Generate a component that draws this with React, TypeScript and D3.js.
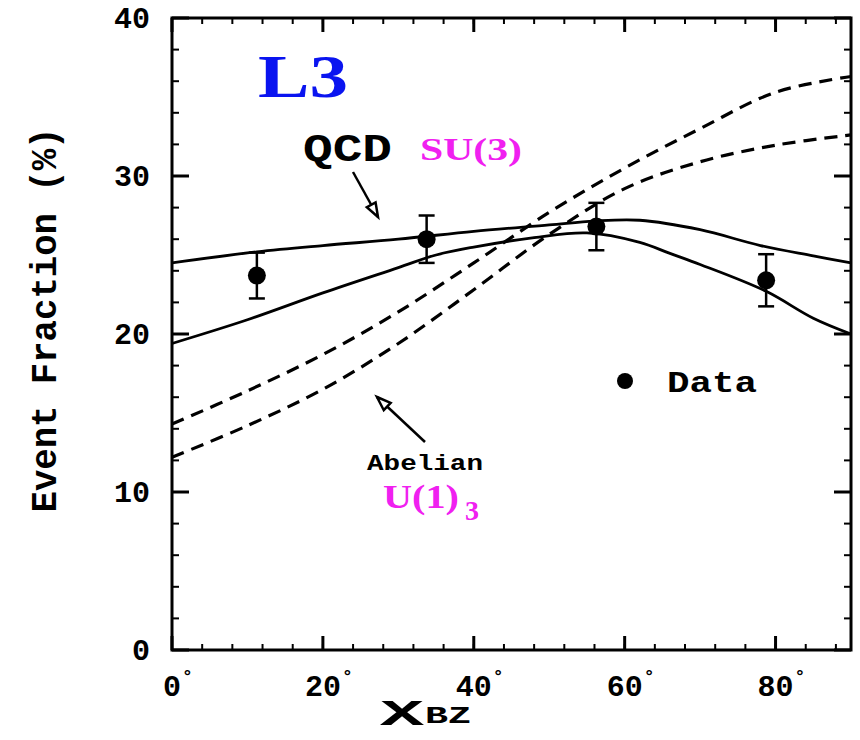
import React from "react";
import * as d3 from "d3";

// axis ticks
const angleTicks = [0, 20, 40, 60, 80];
const fracTicks = [0, 10, 20, 30, 40];

// data points (chi_BZ bins)
const dataAngle = [11.25, 33.75, 56.25, 78.75];
const dataFrac = [23.7, 26.0, 26.8, 23.4];
const dataErr = [1.45, 1.5, 1.5, 1.65];

// QCD SU(3) curves (solid)
const qcdUpperAngle = [0, 11.25, 20, 30, 40, 50, 56, 62, 70, 78, 85, 90];
const qcdUpperFrac = [24.5, 25.2, 25.6, 26.0, 26.5, 26.9, 27.15, 27.2, 26.6, 25.6, 24.95, 24.5];
const qcdLowerAngle = [0, 10, 20, 30, 35, 40, 48, 55, 62, 66, 70, 78.75, 85, 90];
const qcdLowerFrac = [19.4, 20.9, 22.6, 24.2, 25.0, 25.5, 26.1, 26.4, 25.8, 25.1, 24.4, 22.7, 21.0, 20.0];

// Abelian U(1)_3 curves (dashed)
const abelAngle = [0, 10, 20, 30, 40, 50, 60, 70, 80, 90];
const abelUpperFrac = [14.3, 16.4, 18.7, 21.4, 24.5, 27.7, 30.5, 33.0, 35.3, 36.3];
const abelLowerFrac = [12.2, 14.2, 16.5, 19.4, 22.8, 26.3, 29.2, 30.9, 31.95, 32.6];

const width = 860;
const height = 740;
const margin = { top: 18, right: 9, bottom: 90, left: 172 };

const mono = "'Liberation Mono', 'DejaVu Sans Mono', monospace";
const serif = "'Liberation Serif', 'DejaVu Serif', serif";
const magenta = "#f020f0";

function arrowHead(x1: number, y1: number, x2: number, y2: number) {
  // hollow head at (x2,y2)
  const a = Math.atan2(y2 - y1, x2 - x1);
  const len = 14, w = 5;
  const bx = x2 - len * Math.cos(a), by = y2 - len * Math.sin(a);
  const px = -Math.sin(a) * w, py = Math.cos(a) * w;
  return `M${x2},${y2}L${bx + px},${by + py}L${bx - px},${by - py}Z`;
}

const App = () => {
  const x = d3.scaleLinear().domain([0, 90]).range([margin.left, width - margin.right]);
  const y = d3.scaleLinear().domain([0, 40]).range([height - margin.bottom, margin.top]);
  const x0 = x(0), x1 = x(90), y0 = y(0), y1 = y(40);

  const line = (ax: number[], ay: number[]) =>
    d3.line<number>()
      .x((d, i) => x(ax[i]))
      .y((d) => y(d))
      .curve(d3.curveCatmullRom.alpha(0.5))(ay) as string;

  const xMinor = d3.range(0, 90.01, 4);
  const yMinor = d3.range(0, 40.01, 2);

  const qx1 = 353, qy1 = 172, qx2 = 378, qy2 = 217;
  const ax1 = 425, ay1 = 442, ax2 = 377, ay2 = 397;

  return (
    <svg width={width} height={height} style={{ position: "absolute", left: 0, top: 0, background: "#fff" }}>
      {/* minor ticks */}
      <g stroke="#000" strokeWidth={2}>
        {xMinor.map((t) => (
          <g key={"xm" + t}>
            <line x1={x(t)} x2={x(t)} y1={y0} y2={y0 - 6} />
            <line x1={x(t)} x2={x(t)} y1={y1} y2={y1 + 6} />
          </g>
        ))}
        {yMinor.map((t) => (
          <g key={"ym" + t}>
            <line x1={x0} x2={x0 + 7} y1={y(t)} y2={y(t)} />
            <line x1={x1} x2={x1 - 7} y1={y(t)} y2={y(t)} />
          </g>
        ))}
      </g>
      <g stroke="#000" strokeWidth={3}>
        {angleTicks.map((t) => (
          <g key={"xM" + t}>
            <line x1={x(t)} x2={x(t)} y1={y0} y2={y0 - 14} />
            <line x1={x(t)} x2={x(t)} y1={y1} y2={y1 + 14} />
          </g>
        ))}
        {fracTicks.map((t) => (
          <g key={"yM" + t}>
            <line x1={x0} x2={x0 + 17} y1={y(t)} y2={y(t)} />
            <line x1={x1} x2={x1 - 17} y1={y(t)} y2={y(t)} />
          </g>
        ))}
      </g>
      <rect x={x0} y={y1} width={x1 - x0} height={y0 - y1} fill="none" stroke="#000" strokeWidth={3} />

      {/* tick labels */}
      <g fontFamily={mono} fontWeight="bold" fontSize={30} fill="#000">
        {fracTicks.map((t) => (
          <text key={"yl" + t} x={x0 - 22} y={y(t) + 10} textAnchor="end">{t}</text>
        ))}
        {angleTicks.map((t) => {
          const w = String(t).length * 18;
          return (
            <g key={"xl" + t}>
              <text x={x(t)} y={y0 + 46} textAnchor="middle">{t}</text>
              <text x={x(t) + w / 2 + 1} y={y0 + 32} fontSize={18}>°</text>
            </g>
          );
        })}
      </g>

      {/* axis titles */}
      <text transform={`translate(56,${(y0 + y1) / 2 - 14}) rotate(-90)`} textAnchor="middle"
        fontFamily={mono} fontWeight="bold" fontSize={36} textLength={385} lengthAdjust="spacingAndGlyphs">
        Event Fraction (%)
      </text>
      <text x={380} y={725} fontFamily={mono} fontWeight="bold" fontSize={36} textLength={44} lengthAdjust="spacingAndGlyphs">X</text>
      <text x={425} y={723} fontFamily={mono} fontWeight="bold" fontSize={24} textLength={46} lengthAdjust="spacingAndGlyphs">BZ</text>

      {/* curves */}
      <g fill="none" stroke="#000" strokeWidth={2.8}>
        <path d={line(qcdUpperAngle, qcdUpperFrac)} />
        <path d={line(qcdLowerAngle, qcdLowerFrac)} />
        <path d={line(abelAngle, abelUpperFrac)} strokeDasharray="13 8" strokeWidth={3.2} />
        <path d={line(abelAngle, abelLowerFrac)} strokeDasharray="13 8" strokeWidth={3.2} />
      </g>

      {/* data */}
      <g stroke="#000" strokeWidth={2.5}>
        {dataAngle.map((a, i) => (
          <g key={"d" + i}>
            <line x1={x(a)} x2={x(a)} y1={y(dataFrac[i] - dataErr[i])} y2={y(dataFrac[i] + dataErr[i])} />
            <line x1={x(a) - 8} x2={x(a) + 8} y1={y(dataFrac[i] - dataErr[i])} y2={y(dataFrac[i] - dataErr[i])} />
            <line x1={x(a) - 8} x2={x(a) + 8} y1={y(dataFrac[i] + dataErr[i])} y2={y(dataFrac[i] + dataErr[i])} />
            <circle cx={x(a)} cy={y(dataFrac[i])} r={9} fill="#000" stroke="none" />
          </g>
        ))}
      </g>

      {/* legend */}
      <circle cx={625} cy={381} r={8} fill="#000" />
      <text x={667} y={392} fontFamily={mono} fontWeight="bold" fontSize={30} textLength={90} lengthAdjust="spacingAndGlyphs">Data</text>

      {/* annotations */}
      <text x={258} y={97} fontFamily={serif} fontWeight="bold" fontSize={62} fill="#0a14f0" textLength={90} lengthAdjust="spacingAndGlyphs">L3</text>
      <text x={303} y={161} fontFamily={mono} fontWeight="bold" fontSize={38} textLength={89} lengthAdjust="spacingAndGlyphs">QCD</text>
      <text x={420} y={160} fontFamily={serif} fontWeight="bold" fontSize={32} fill={magenta} textLength={102} lengthAdjust="spacingAndGlyphs">SU(3)</text>
      <text x={367} y={470} fontFamily={mono} fontWeight="bold" fontSize={22} textLength={116} lengthAdjust="spacingAndGlyphs">Abelian</text>
      <text x={383} y={508} fontFamily={serif} fontWeight="bold" fontSize={34} fill={magenta} textLength={76} lengthAdjust="spacingAndGlyphs">U(1)</text>
      <text x={465} y={520} fontFamily={serif} fontWeight="bold" fontSize={28} fill={magenta}>3</text>

      <g stroke="#000" strokeWidth={2.5} fill="#fff">
        <line x1={qx1} y1={qy1} x2={qx2} y2={qy2} />
        <path d={arrowHead(qx1, qy1, qx2, qy2)} />
        <line x1={ax1} y1={ay1} x2={ax2} y2={ay2} />
        <path d={arrowHead(ax1, ay1, ax2, ay2)} />
      </g>
    </svg>
  );
};

export default App;
